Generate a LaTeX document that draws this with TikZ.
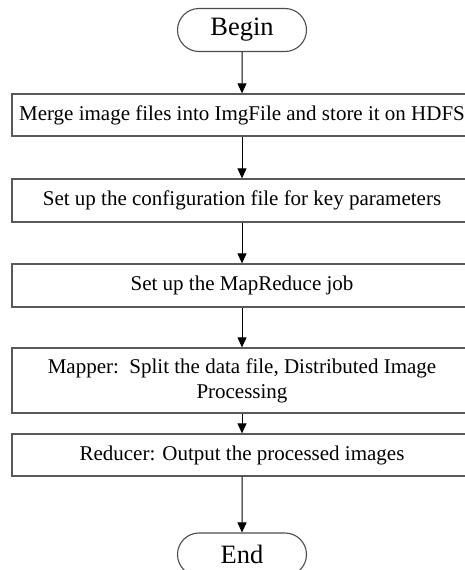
\documentclass[tikz,border=0pt]{standalone}
\usepackage{fontspec}
\setmainfont{Liberation Serif}
\usetikzlibrary{arrows.meta,shapes.misc}
\tikzset{
  stepbox/.style={draw=black!65, line width=1.3pt, fill=white, rectangle,
    minimum width=460pt, inner sep=0pt, align=center,
    font=\fontsize{21}{25}\selectfont},
  terminal/.style={draw=black!70, line width=1.1pt, fill=white, rounded rectangle,
    minimum width=129pt, minimum height=43pt, inner sep=0pt,
    font=\fontsize{26.5}{30}\selectfont},
  flow/.style={draw=black, line width=1pt, -{Triangle[length=10pt,width=9pt]}}
}
\begin{document}
\begin{tikzpicture}[x=1pt,y=-1pt]
  \clip (0,0) rectangle (465,570);
  \useasboundingbox (0,0) rectangle (465,570);
  \fill[white] (0,0) rectangle (465,570);

  \node[terminal] (begin) at (242,30) {Begin};
  \node[stepbox, minimum height=42pt] (merge) at (242,115)
    {Merge image files into ImgFile and store it on HDFS};
  \node[stepbox, minimum height=43pt] (config) at (242,200.5)
    {Set up the configuration file for key parameters};
  \node[stepbox, minimum height=43pt] (job) at (242,285.5)
    {Set up the MapReduce job};
  \node[stepbox, minimum height=65pt] (mapper) at (242,380.5)
    {Mapper:\ \ Split the data file, Distributed Image\\Processing};
  \node[stepbox, minimum height=42pt] (reducer) at (242,455)
    {Reducer: Output the processed images};
  \node[terminal] (end) at (242,554.5) {End};

  \draw[flow] (begin) -- (merge);
  \draw[flow] (merge) -- (config);
  \draw[flow] (config) -- (job);
  \draw[flow] (job) -- (mapper);
  \draw[flow] (mapper) -- (reducer);
  \draw[flow] (reducer) -- (end);
\end{tikzpicture}
\end{document}
